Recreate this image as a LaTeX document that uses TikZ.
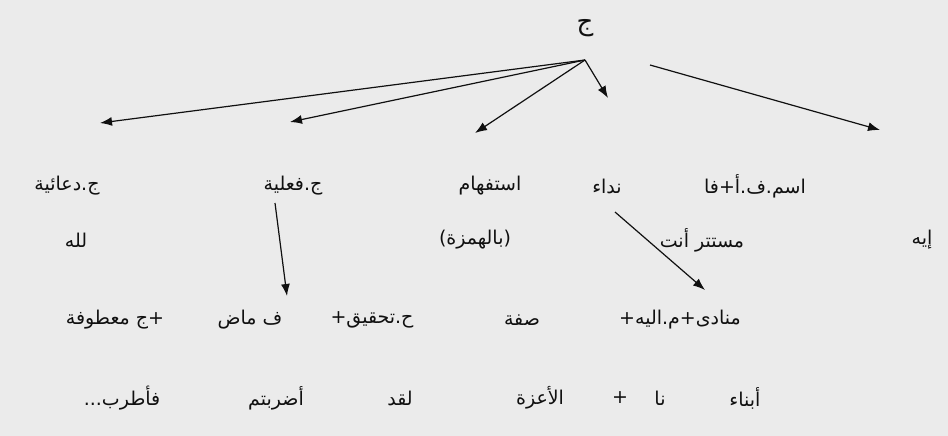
\documentclass[tikz,border=0pt]{standalone}
\usepackage{fontspec}
\usepackage{xcolor}
\usetikzlibrary{arrows.meta}
\TeXXeTstate=1
\newfontfamily\arabicfont[Script=Arabic]{DejaVu Sans}
\definecolor{paper}{HTML}{EBEBEB}
\definecolor{ink}{HTML}{101010}
\newcommand{\rtl}[1]{\beginR #1\endR}
\tikzset{
word/.style={
inner sep=1pt,
text=ink,
font=\arabicfont\fontsize{19}{22}\selectfont
},
bigword/.style={
word,
font=\arabicfont\fontsize{26}{30}\selectfont
},
arrow/.style={
-{Latex[length=12pt,width=9pt]},
line width=1.2pt,
draw=ink
}
}

\begin{document}
\begin{tikzpicture}[x=1pt,y=-1pt]
\fill[paper](0,0)rectangle(948,436);
\useasboundingbox(0,0)rectangle(948,436);

% top
\node[bigword](jumla) at (585,28){\rtl{ج}};

% types
\node[word](ism) at (755,186){\rtl{اسم.ف.أ+فا}};
\node[word](nida) at (607,186){\rtl{نداء}};
\node[word](istif) at (490,186){\rtl{استفهام}};
\node[word](fil) at (293,186){\rtl{ج.فعلية}};
\node[word](dua) at (67,186){\rtl{ج.دعائية}};

\node[word](iyyah) at (922,240){\rtl{إيه}};
\node[word](mustatir) at (702,240){\rtl{مستتر أنت}};
\node[word](hamza) at (475,240){\rtl{(بالهمزة)}};
\node[word](lillah) at (76,240){\rtl{لله}};

\node[word](munada) at (680,320){\rtl{منادى+م.اليه+}};
\node[word](sifa) at (522,320){\rtl{صفة}};
\node[word](tahqiq) at (372,320){\rtl{ح.تحقيق+}};
\node[word](madi) at (250,320){\rtl{ف ماض}};
\node[word](matuf) at (115,320){\rtl{+ج معطوفة}};

% example sentence
\node[word](abna) at (745,398){\rtl{أبناء}};
\node[word](na) at (660,398){\rtl{نا}};
\node[word](plus) at (620,398){+};
\node[word](aizza) at (540,398){\rtl{الأعزة}};
\node[word](laqad) at (400,398){\rtl{لقد}};
\node[word](adrab) at (276,398){\rtl{أضربتم}};
\node[word](atrab) at (122,398){\rtl{فأطرب...}};

% arrows
\coordinate(hub) at (585,60);
\coordinate(hubr) at (650,65);
\coordinate(tdua) at (100,123);
\coordinate(tfil) at (290,122);
\coordinate(tistif) at (475,133);
\coordinate(tnida) at (608,98);
\coordinate(tism) at (880,130);
\coordinate(sfil) at (275,203);
\coordinate(ttahqiq) at (287,296);
\coordinate(snida) at (615,212);
\coordinate(tmunada) at (705,290);

\foreach \t in {tdua,tfil,tistif,tnida}
\draw[arrow](hub)--(\t);
\draw[arrow](hubr)--(tism);
\draw[arrow](sfil)--(ttahqiq);
\draw[arrow](snida)--(tmunada);
\end{tikzpicture}
\end{document}
